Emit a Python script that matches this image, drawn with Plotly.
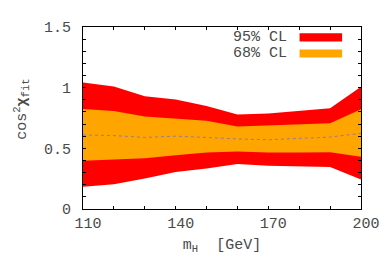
import plotly.graph_objects as go

m_h = [110, 120, 130, 140, 150, 160, 170, 180, 190, 200]
cl95_hi = [1.042, 1.010, 0.929, 0.902, 0.849, 0.778, 0.788, 0.807, 0.831, 1.008]
cl68_hi = [0.825, 0.807, 0.762, 0.746, 0.728, 0.680, 0.688, 0.696, 0.706, 0.823]
central = [0.611, 0.605, 0.590, 0.600, 0.590, 0.577, 0.571, 0.582, 0.593, 0.624]
cl68_lo = [0.397, 0.405, 0.418, 0.444, 0.466, 0.474, 0.466, 0.466, 0.468, 0.431]
cl95_lo = [0.183, 0.204, 0.251, 0.304, 0.333, 0.370, 0.357, 0.355, 0.347, 0.243]

x_ticks = [110, 140, 170, 200]
y_ticks = [0, 0.5, 1, 1.5]
y_tick_text = ["0", "0.5", "1", "1.5"]
legend_labels = ["95% CL", "68% CL"]

RED = "#ff0000"
ORANGE = "#ffa500"
FONT = "Liberation Mono"
TXT = "#4a4a4a"

fig = go.Figure()
fig.add_trace(go.Scatter(x=m_h, y=cl95_hi, mode="lines", line=dict(width=0, color=RED),
                         hoverinfo="skip", showlegend=False))
fig.add_trace(go.Scatter(x=m_h, y=cl95_lo, mode="lines", line=dict(width=0, color=RED),
                         fill="tonexty", fillcolor=RED, showlegend=False))
fig.add_trace(go.Scatter(x=m_h, y=cl68_hi, mode="lines", line=dict(width=0, color=ORANGE),
                         hoverinfo="skip", showlegend=False))
fig.add_trace(go.Scatter(x=m_h, y=cl68_lo, mode="lines", line=dict(width=0, color=ORANGE),
                         fill="tonexty", fillcolor=ORANGE, showlegend=False))
fig.add_trace(go.Scatter(x=m_h, y=central, mode="lines",
                         line=dict(width=1, color="#9a7a9a", dash="dot"), showlegend=False))

axis_common = dict(showline=True, linecolor="black", linewidth=1, mirror="allticks",
                   ticks="inside", ticklen=3, tickcolor="black", showgrid=False,
                   zeroline=False, tickfont=dict(family=FONT, size=15, color=TXT))

fig.update_xaxes(range=[110, 200], tickvals=x_ticks, ticktext=[str(v) for v in x_ticks],
                 ticklabelshift=5,
                 minor=dict(dtick=10, tick0=110, ticks="inside", ticklen=3, tickcolor="black"),
                 title=dict(text="m<sub>H</sub>  [GeV]", font=dict(family=FONT, size=15, color=TXT),
                            standoff=6),
                 **axis_common)
fig.update_yaxes(range=[0, 1.5], tickvals=y_ticks, ticktext=y_tick_text,
                 ticklabelstandoff=8,
                 minor=dict(dtick=0.1, tick0=0, ticks="inside", ticklen=3, tickcolor="black"),
                 **axis_common)

# y-axis title as annotation
fig.add_annotation(xref="paper", yref="paper", x=-0.22, y=0.55, textangle=-90,
                   xanchor="center", yanchor="middle",
                   text="cos<sup>2</sup><b>χ</b><sub>fit</sub>", showarrow=False,
                   font=dict(family=FONT, size=15, color=TXT))

# legend
legend_colors = [RED, ORANGE]
legend_y = [0.943, 0.854]
for lab, col, yc in zip(legend_labels, legend_colors, legend_y):
    fig.add_annotation(xref="paper", yref="paper", x=0.742, y=yc, xanchor="right",
                       yanchor="middle", text=lab, showarrow=False,
                       font=dict(family=FONT, size=15, color=TXT))
    fig.add_shape(type="rect", xref="paper", yref="paper", x0=0.779, x1=0.932,
                  y0=yc - 0.022, y1=yc + 0.022, fillcolor=col, line=dict(width=0))

fig.update_layout(width=384, height=267, margin=dict(l=75, r=28, t=12, b=66),
                  plot_bgcolor="white", paper_bgcolor="white",
                  font=dict(family=FONT, color=TXT))

fig.write_html("out.html")
